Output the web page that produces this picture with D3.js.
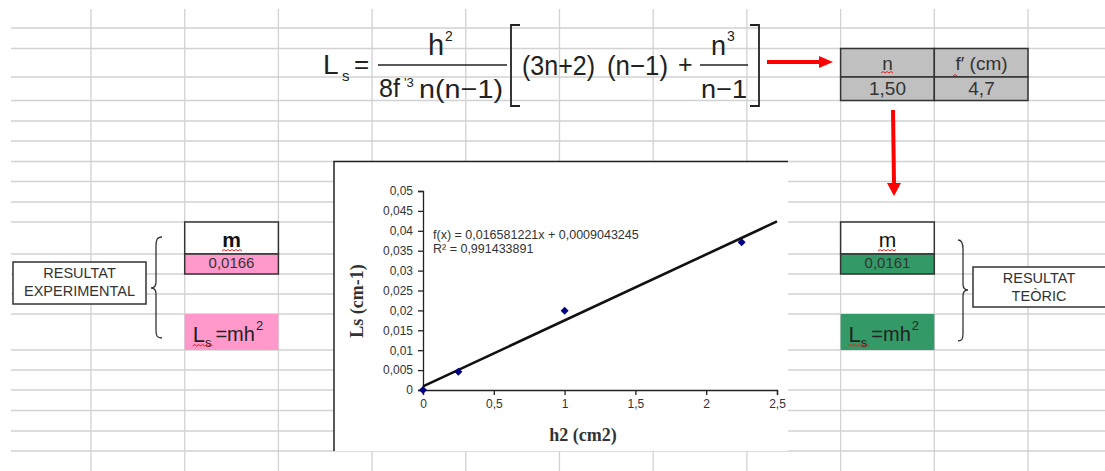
<!DOCTYPE html>
<html>
<head>
<meta charset="utf-8">
<script src="https://d3js.org/d3.v7.min.js"></script>
<style>
  body { margin: 0; background: #fff; }
  svg { display: block; font-family: "Liberation Sans", Arial, sans-serif; }
</style>
</head>
<body>
<div id="sheet"></div>
<script>
// measured points: h^2 (cm2) against Ls (cm-1)
var h2Values = [0, 0.25, 1, 2.25];
var lsValues = [0, 0.0046, 0.0199, 0.0371];
var xTicks = [0, 0.5, 1, 1.5, 2, 2.5];
var yTicks = [0, 0.005, 0.01, 0.015, 0.02, 0.025, 0.03, 0.035, 0.04, 0.045, 0.05];
// linear trend line shown on the chart
var fitSlope = 0.016581221;
var fitIntercept = 0.0009043245;
var fitR2 = 0.991433891;
// spreadsheet cells
var lensN = 1.50;
var lensF = 4.7;
var mExperimental = 0.0166;
var mTheoretical = 0.0161;

var W = 1105, H = 471;
var comma = function(v) { return String(v).replace(".", ","); };

var svg = d3.select("#sheet").append("svg")
    .attr("width", W)
    .attr("height", H);

// spreadsheet grid
var cols = d3.range(11).map(function(i) { return 91 + i * 93.7; });
var rows = [28, 48.5, 77, 100.5, 121, 141, 161.5, 181.5, 202, 222, 254, 274, 294, 314, 350, 370, 390, 410.5, 431, 451];
var grid = svg.append("g").attr("stroke", "#d2d2d2").attr("stroke-width", 1.3);
grid.selectAll(".r").data(rows).enter().append("line")
    .attr("x1", 11).attr("x2", W).attr("y1", function(d) { return d; }).attr("y2", function(d) { return d; });
grid.selectAll(".c").data(cols).enter().append("line")
    .attr("y1", 9).attr("y2", H).attr("x1", function(d) { return d; }).attr("x2", function(d) { return d; });

function wavy(x1, x2, y) {
  var p = "M" + x1 + "," + y, up = true;
  for (var x = x1 + 2; x <= x2; x += 2) { p += "L" + x + "," + (up ? y - 1.5 : y); up = !up; }
  svg.append("path").attr("d", p).attr("fill", "none").attr("stroke", "#e02020").attr("stroke-width", 1);
}

function cell(x, y, w, h, fill, border) {
  svg.append("rect").attr("x", x).attr("y", y).attr("width", w).attr("height", h)
    .attr("fill", fill).attr("stroke", border ? "#333" : "none").attr("stroke-width", 1.5);
}

function txt(x, y, s, size, opts) {
  opts = opts || {};
  return svg.append("text").attr("x", x).attr("y", y).text(s)
    .attr("font-size", size).attr("fill", opts.fill || "#333")
    .attr("text-anchor", opts.anchor || "middle")
    .attr("font-weight", opts.bold ? "bold" : null);
}

// ---- formula ----
var fcol = "#222";
txt(323, 74, "L", 28, {anchor: "start", fill: fcol});
txt(342, 81, "s", 15, {anchor: "start", fill: fcol});
txt(354, 73, "=", 26, {anchor: "start", fill: fcol});
svg.append("line").attr("x1", 378).attr("x2", 507).attr("y1", 65).attr("y2", 65).attr("stroke", fcol).attr("stroke-width", 1.3);
txt(428, 55, "h", 29, {anchor: "start", fill: fcol});
txt(445, 41, "2", 14, {anchor: "start", fill: fcol});
txt(379, 97, "8f", 25, {anchor: "start", fill: fcol});
txt(404, 87, "'3", 13, {anchor: "start", fill: fcol});
txt(419, 98, "n(n\u22121)", 26, {anchor: "start", fill: fcol}).attr("textLength", 84).attr("lengthAdjust", "spacingAndGlyphs");
svg.append("path").attr("d", "M520,25H511V106H520M750,25H759V106H750").attr("fill", "none").attr("stroke", fcol).attr("stroke-width", 1.8);
txt(522, 75, "(3n+2)", 28, {anchor: "start", fill: fcol}).attr("textLength", 73).attr("lengthAdjust", "spacingAndGlyphs");
txt(607, 75, "(n\u22121)", 28, {anchor: "start", fill: fcol}).attr("textLength", 61).attr("lengthAdjust", "spacingAndGlyphs");
txt(678, 73, "+", 25, {anchor: "start", fill: fcol});
svg.append("line").attr("x1", 700).attr("x2", 748).attr("y1", 65).attr("y2", 65).attr("stroke", fcol).attr("stroke-width", 1.3);
txt(711, 55, "n", 27, {anchor: "start", fill: fcol});
txt(727, 41, "3", 14, {anchor: "start", fill: fcol});
txt(701, 98, "n\u22121", 26, {anchor: "start", fill: fcol}).attr("textLength", 46).attr("lengthAdjust", "spacingAndGlyphs");

// red arrows
svg.append("line").attr("x1", 767).attr("x2", 821).attr("y1", 62).attr("y2", 62).attr("stroke", "#f00").attr("stroke-width", 4);
svg.append("path").attr("d", "M819,56L833,62L819,68Z").attr("fill", "#f00");
svg.append("line").attr("x1", 893).attr("x2", 894).attr("y1", 110).attr("y2", 184).attr("stroke", "#f00").attr("stroke-width", 4);
svg.append("path").attr("d", "M887,183L894,196L901,183Z").attr("fill", "#f00");

// n / f' table
cell(cols[8], 48.5, cols[9] - cols[8], 28.5, "#c0c0c0", true);
cell(cols[9], 48.5, cols[10] - cols[9], 28.5, "#c0c0c0", true);
cell(cols[8], 77, cols[9] - cols[8], 23.5, "#c0c0c0", true);
cell(cols[9], 77, cols[10] - cols[9], 23.5, "#c0c0c0", true);
txt(887.5, 70, "n", 19);
wavy(881, 893, 73);
txt(981.5, 70, "f\u2032 (cm)", 19);
wavy(953, 958, 76);
txt(887.5, 95, lensN.toFixed(2).replace(".", ","), 19);
txt(981.5, 95, comma(lensF), 19);

// left block (experimental)
cell(cols[1], 222, cols[2] - cols[1], 32, "#fff", true);
cell(cols[1], 254, cols[2] - cols[1], 20, "#ff99cc", true);
txt(231.5, 247, "m", 21, {bold: true, fill: "#111"});
wavy(222, 243, 251);
txt(231.5, 268, comma(mExperimental), 15);
cell(cols[1], 314, cols[2] - cols[1], 36, "#ff99cc", false);

// right block (theoretical)
cell(cols[8], 222, cols[9] - cols[8], 32, "#fff", true);
cell(cols[8], 254, cols[9] - cols[8], 20, "#339966", true);
txt(887.5, 247, "m", 21, {fill: "#111"});
wavy(878, 897, 251);
txt(887.5, 268, comma(mTheoretical), 15);
cell(cols[8], 314, cols[9] - cols[8], 36, "#339966", false);

[cols[1], cols[8]].forEach(function(cx) {
  var t = txt(cx + 8, 342, "L", 22, {anchor: "start", fill: "#222"});
  t.append("tspan").attr("font-size", 13).attr("dy", 5).text("s");
  t.append("tspan").attr("font-size", 20).attr("dx", 4).attr("dy", -6).text("=mh");
  t.append("tspan").attr("font-size", 13).attr("dx", 1).attr("dy", -11).text("2");
  wavy(cx + 8, cx + 28, 346);
});

// labels with braces
cell(13, 262, 133, 42, "#fff", true);
txt(79.5, 278, "RESULTAT", 14.5);
txt(79.5, 296, "EXPERIMENTAL", 14.5);
svg.append("path").attr("d", "M162,237C157,237 156,240 156,246L156,282C156,286 154,288 151,288C154,288 156,290 156,294L156,330C156,336 157,338 162,338")
  .attr("fill", "none").attr("stroke", "#333").attr("stroke-width", 1.3);
cell(973, 267, 133, 40, "#fff", true);
txt(1039, 283, "RESULTAT", 14.5);
txt(1039, 300.5, "TE\u00d2RIC", 14.5);
svg.append("path").attr("d", "M958,240C962,240 963,243 963,249L963,284C963,288 965,290 968,290C965,290 963,292 963,296L963,333C963,339 962,341 958,341")
  .attr("fill", "none").attr("stroke", "#333").attr("stroke-width", 1.3);

// ---- chart ----
svg.append("rect").attr("x", 334).attr("y", 161.5).attr("width", 454).attr("height", 289.5).attr("fill", "#fff");
svg.append("path").attr("d", "M334,451V161.5H788").attr("fill", "none").attr("stroke", "#222").attr("stroke-width", 1.5);

var locale = d3.formatLocale({decimal: ",", thousands: ".", grouping: [3], currency: ["", ""]});
var tickFmt = locale.format("~g");

var x = d3.scaleLinear().domain([0, 2.5]).range([423, 777]);
var y = d3.scaleLinear().domain([0, 0.05]).range([390, 191]);

var xAxis = svg.append("g").attr("transform", "translate(0,390)")
    .call(d3.axisBottom(x).tickValues(xTicks).tickFormat(tickFmt).tickSize(5).tickPadding(4));
var yAxis = svg.append("g").attr("transform", "translate(423,0)")
    .call(d3.axisLeft(y).tickValues(yTicks).tickFormat(tickFmt).tickSize(5).tickPadding(5));
[xAxis, yAxis].forEach(function(a) {
  a.select(".domain").attr("stroke", "#222").attr("stroke-width", 1.3);
  a.selectAll(".tick line").attr("stroke", "#222").attr("stroke-width", 1.3);
  a.selectAll(".tick text").attr("fill", "#333").attr("font-size", 12)
    .attr("font-family", "'Liberation Sans', Arial, sans-serif");
});

// trend line from fit coefficients
var fitLine = d3.line()
    .x(function(d) { return x(d); })
    .y(function(d) { return y(fitSlope * d + fitIntercept); });
svg.append("path").datum(x.domain()).attr("d", fitLine)
    .attr("fill", "none").attr("stroke", "#111").attr("stroke-width", 2.6);

svg.append("g").selectAll("path").data(h2Values).enter().append("path")
    .attr("d", d3.symbol().type(d3.symbolSquare).size(32))
    .attr("transform", function(d, i) { return "translate(" + x(d) + "," + y(lsValues[i]) + ") rotate(45)"; })
    .attr("fill", "#000080");

txt(433, 239, "f(x) = " + comma(fitSlope) + "x + " + comma(fitIntercept), 12.5, {anchor: "start"});
txt(433, 253, "R\u00b2 = " + comma(fitR2), 12.5, {anchor: "start"});

svg.append("text").attr("transform", "translate(363,301) rotate(-90)")
    .attr("text-anchor", "middle").attr("font-size", 18).attr("font-weight", "bold")
    .attr("font-family", "'Liberation Serif', serif").attr("fill", "#333").text("Ls (cm-1)");
svg.append("text").attr("x", 583).attr("y", 441)
    .attr("text-anchor", "middle").attr("font-size", 18).attr("font-weight", "bold")
    .attr("font-family", "'Liberation Serif', serif").attr("fill", "#333").text("h2 (cm2)");
</script>
</body>
</html>
